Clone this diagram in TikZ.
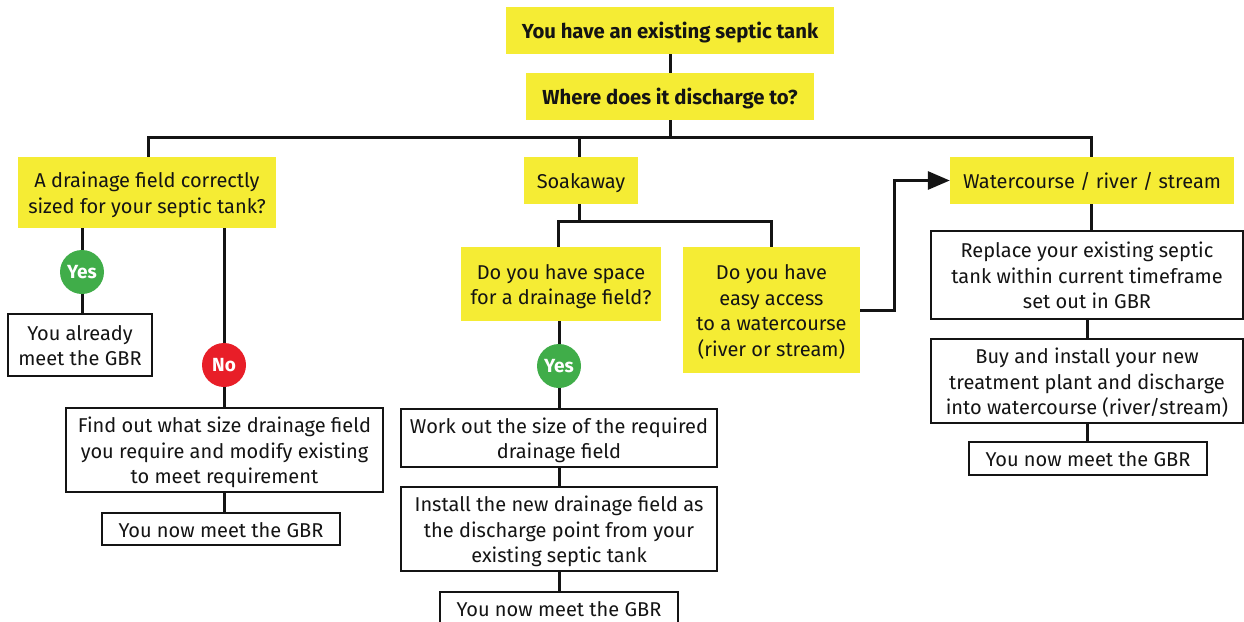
\documentclass[tikz,border=0pt]{standalone}
\usepackage{fontspec}
\setmainfont{Fira Sans}
\usetikzlibrary{arrows.meta}
\definecolor{qyellow}{RGB}{245,236,52}
\definecolor{qgreen}{RGB}{64,173,73}
\definecolor{qred}{RGB}{232,30,40}
\definecolor{ink}{RGB}{20,20,20}
\newcommand{\ts}{\rule{0pt}{20.5pt}}
\newcommand{\bs}{\rule[-4.5pt]{0pt}{4.5pt}}
\tikzset{
  ybox/.style={fill=qyellow, inner sep=0pt, align=center, text=ink,
    font=\fontsize{20}{25.5}\selectfont},
  tbox/.style={ybox, font=\fontsize{20.3}{25}\selectfont\bfseries},
  wbox/.style={draw=ink, line width=1.5pt, fill=white, inner sep=0pt, align=center, text=ink,
    font=\fontsize{20}{25.5}\selectfont},
  yesno/.style={circle, minimum size=44pt, inner sep=0pt, text=white,
    font=\fontsize{19}{20}\selectfont\bfseries},
  conn/.style={draw=ink, line width=3pt},
  arr/.style={conn, -{Triangle[length=22pt,width=18pt]}}
}
\begin{document}
\begin{tikzpicture}[x=1pt,y=-1pt]
\useasboundingbox (0,0) rectangle (1244,621);
\coordinate (sj) at (579,221);
% nodes
\node[tbox, minimum width=328pt, minimum height=47pt] (top) at (670,30.5) {\ts You have an existing septic tank\bs};
\node[tbox, minimum width=288pt, minimum height=47pt] (where) at (670,96.5) {\ts Where does it discharge to?\bs};
\node[ybox, minimum width=258pt, minimum height=71pt] (leftq) at (147,192.5) {\ts A drainage field correctly\\sized for your septic tank?\bs};
\node[ybox, minimum width=114pt, minimum height=47pt] (soak) at (581,180.5) {\ts Soakaway\bs};
\node[ybox, minimum width=284pt, minimum height=47pt] (water) at (1092,180.5) {\ts Watercourse / river / stream\bs};
\node[ybox, minimum width=200pt, minimum height=74pt] (space) at (561,284) {\ts Do you have space\\for a drainage field?\bs};
\node[ybox, minimum width=177pt, minimum height=126pt] (access) at (771.5,310) {\ts Do you have\\easy access\\to a watercourse\\(river or stream)\bs};
\node[wbox, minimum width=312pt, minimum height=88pt] (replace) at (1087,275) {\ts Replace your existing septic\\tank within current timeframe\\set out in GBR\bs};
\node[wbox, minimum width=312pt, minimum height=84pt] (buy) at (1087,381) {\ts Buy and install your new\\treatment plant and discharge\\into watercourse (river/stream)\bs};
\node[wbox, minimum width=238pt, minimum height=33pt] (gbr3) at (1088,458.5) {\ts You now meet the GBR\bs};
\node[yesno, fill=qgreen] (yes1) at (82,272) {Yes};
\node[wbox, minimum width=144pt, minimum height=62pt] (already) at (80,345) {\ts You already\\meet the GBR\bs};
\node[yesno, fill=qred] (no) at (224,365) {No};
\node[wbox, minimum width=317pt, minimum height=84pt] (findout) at (224.5,450) {\ts Find out what size drainage field\\you require and modify existing\\to meet requirement\bs};
\node[wbox, minimum width=238pt, minimum height=32pt] (gbr1) at (221,529) {\ts You now meet the GBR\bs};
\node[yesno, fill=qgreen] (yes2) at (559,366) {Yes};
\node[wbox, minimum width=316pt, minimum height=58pt] (workout) at (559,438) {\ts Work out the size of the required\\drainage field\bs};
\node[wbox, minimum width=316pt, minimum height=84pt] (install) at (559,529) {\ts Install the new drainage field as\\the discharge point from your\\existing septic tank\bs};
\node[wbox, minimum width=238pt, minimum height=34pt, anchor=north] (gbr2) at (559,591) {\ts You now meet the GBR\bs};
% connectors
\draw[conn] (top.south) -- (where.north);
\draw[conn] ([xshift=1pt]leftq.north) -- ++(0,-19) -| ([xshift=-1pt]water.north);
\draw[conn] (where.south) -- ++(0,18);
\draw[conn] (soak.north -| sj) -- ++(0,-19);
\draw[conn] (soak.south -| sj) -- (sj);
\draw[conn] ([xshift=-3pt]space.north) |- (sj) -| (access.north);
\draw[conn] (leftq.south -| yes1) -- (yes1.north);
\draw[conn] (yes1.south) -- (already.north -| yes1);
\draw[conn] (leftq.south -| no) -- (no.north);
\draw[conn] (no.south) -- (findout.north -| no);
\draw[conn] (findout.south -| no) -- (gbr1.north -| no);
\draw[conn] ([xshift=-2pt]space.south) -- (yes2.north);
\draw[conn] (yes2.south) -- (workout.north);
\draw[conn] (workout.south) -- (install.north);
\draw[conn] (install.south) -- (gbr2.north);
\draw[conn] ([xshift=-1pt]water.south) -- ([xshift=-1pt]water.south |- replace.north);
\draw[conn] (replace.south) -- (buy.north);
\draw[conn] (buy.south) -- (buy.south |- gbr3.north);
\draw[arr] (access.east) -- ++(34,0) |- (water.west);
\end{tikzpicture}
\end{document}
